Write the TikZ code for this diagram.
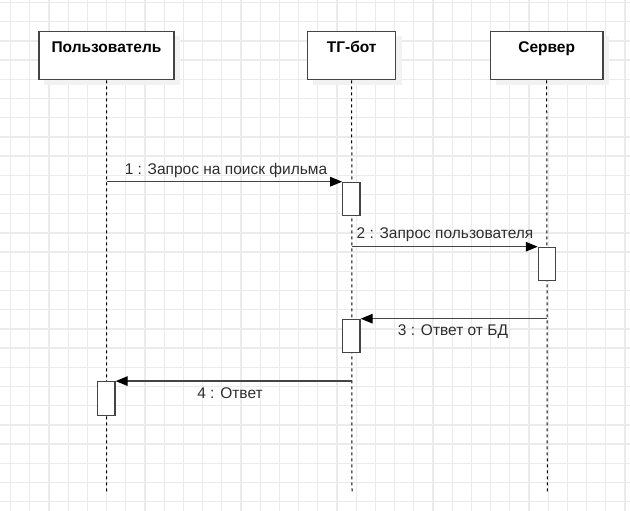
\documentclass[tikz,border=0pt]{standalone}
\usepackage{fontspec}
\setmainfont{Liberation Sans}
\usetikzlibrary{arrows.meta}
\definecolor{gridc}{HTML}{EBEBEB}
\definecolor{linec}{HTML}{444444}
\definecolor{textc}{HTML}{2E2E2E}
\definecolor{shadowc}{HTML}{F2F2F2}
\tikzset{
  partbox/.style={draw=linec, line width=1.3pt, fill=white, minimum width=135pt,
    inner xsep=0pt, inner ysep=0pt, text height=20.5pt, text depth=27.5pt,
    anchor=north, font=\fontsize{15.5}{18}\selectfont\bfseries, text=black},
  actbox/.style={draw=linec, line width=1.2pt, fill=white, minimum width=17.3pt,
    minimum height=33.4pt, inner sep=0pt},
  lifeline/.style={draw=black, line width=1pt, dash pattern=on 3pt off 3pt},
  msg/.style={draw=linec, line width=1.3pt, -{Triangle[length=12pt, width=9.5pt, fill=black, color=black]}},
  msglabel/.style={font=\fontsize{15.5}{18}\selectfont, text=textc, inner sep=0pt},
}
\begin{document}
\begin{tikzpicture}[x=1pt, y=-1pt]
\useasboundingbox (0,0) rectangle (630,511);
\fill[white] (0,0) rectangle (630,511);
% grid
\foreach \k in {0,...,32} {\draw[gridc, line width=1.3pt] ({10.6+\k*19.2},0) -- ({10.6+\k*19.2},511);}
\foreach \k in {0,...,26} {\draw[gridc, line width=1.3pt] (0,{2.5+\k*19.2}) -- (630,{2.5+\k*19.2});}
% shadows
\fill[shadowc] (44,36) rectangle (180,85);
\fill[shadowc] (313,36) rectangle (401.5,85);
\fill[shadowc] (495.5,36) rectangle (609,85);
% participants
\node[partbox] (p1) at (106.5,31) {Пользователь};
\node[partbox, minimum width=88pt] (p2) at (351.7,31) {ТГ-бот};
\node[partbox, minimum width=112.7pt] (p3) at (546.7,31) {Сервер};
% lifeline ends
\coordinate (e1) at (106.7,492);
\coordinate (e2) at (352,492);
\coordinate (e3) at (547.3,492);
\draw[lifeline] (p1.south) -- (e1);
\draw[lifeline] (p2.south) -- (e2);
\draw[lifeline] (p3.south) -- (e3);
% activations
\node[actbox] (a1) at (351.4,199) {};
\node[actbox] (a2) at (547,264) {};
\node[actbox] (a3) at (351.4,336) {};
\node[actbox] (a4) at (106.4,398.4) {};
% messages
\draw[msg] (a1.north west -| p1.south) -- (a1.north west);
\draw[msg] (a2.north west -| p2.south) -- (a2.north west);
\draw[msg] (a3.north east -| p3.south) -- (a3.north east);
\draw[msg] (a4.north east -| p2.south) -- (a4.north east);
% labels
\node[msglabel] (l1) at (226,170) {1 : Запрос на поиск фильма};
\node[msglabel] (l2) at (445,235) {2 : Запрос пользователя};
\node[msglabel] (l3) at (453,332) {3 : Ответ от БД};
\node[msglabel] (l4) at (230,393) {4 : Ответ};
\end{tikzpicture}
\end{document}
